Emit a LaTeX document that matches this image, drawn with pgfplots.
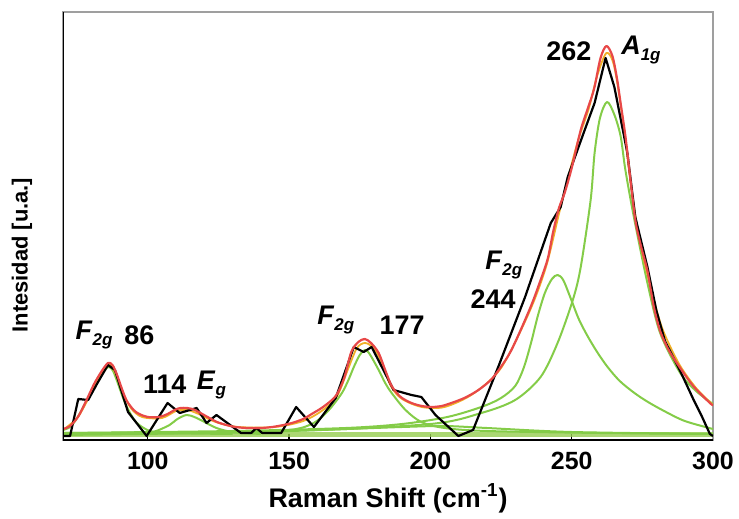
\documentclass[border=0pt]{standalone}
\usepackage{fontspec}
\setmainfont{Liberation Sans}
\usepackage{pgfplots}
\pgfplotsset{compat=1.18}
\usetikzlibrary{calc}

\definecolor{fitred}{RGB}{232,72,72}
\definecolor{compgreen}{RGB}{132,204,72}
\definecolor{basegreen}{RGB}{150,205,80}
\definecolor{sumorange}{RGB}{240,176,40}

\newcommand{\mode}[2]{\textit{#1}\raisebox{-0.45ex}{\fontsize{8.5}{9}\selectfont\textit{#2}}}

\begin{document}
\begin{tikzpicture}
\begin{axis}[
  scale only axis,
  width=325bp, height=214bp,
  xmin=70, xmax=300, ymin=-4, ymax=424,
  xtick={100,150,200,250,300},
  ytick=\empty,
  xtick pos=bottom,
  tick align=inside,
  major tick length=3bp,
  tick style={black, line width=0.7bp},
  axis line style={gray!75, line width=0.7bp},
  /pgf/number format/assume math mode=true,
  xticklabel style={font=\fontsize{12.5}{14}\selectfont\bfseries, yshift=-2.5bp},
  xlabel={Raman Shift (cm\textsuperscript{-1})},
  xlabel style={font=\fontsize{13.5}{15}\selectfont\bfseries, at={(axis description cs:0.5,-0.136)}, anchor=center},
  ylabel={Intesidad [u.a.]},
  ylabel style={font=\fontsize{11}{13}\selectfont\bfseries, at={(axis description cs:-0.063,0.432)}, anchor=center, rotate=0},
  every axis plot/.append style={line join=round},
]
% baseline and broad background components
\addplot[basegreen, line width=2.5bp, opacity=0.8] coordinates {(70,2) (300,2)};
\addplot[compgreen, line width=1bp, smooth] coordinates {
  (70,1) (120,3) (160,6) (190,9) (205,10) (220,8) (250,4) (300,2)};

% Lorentzian components
\addplot[compgreen, line width=1bp, smooth] coordinates {
  (70,6) (72.5,9) (75,18) (78.5,36) (81,49) (83,59) (85.9,69) (87.5,66) (89,56)
  (91,40) (92.6,29) (95,17) (97,11) (100.7,5) (106,3) (130,2)};
\addplot[compgreen, line width=1bp, smooth] coordinates {
  (90,3) (100,4) (103,5) (107.7,11) (110.5,17) (113.7,21) (116.5,19) (119.4,15)
  (124.3,8) (130,4) (140,2)};
\addplot[compgreen, line width=1bp, smooth] coordinates {
  (70,2) (140,4) (152.5,7) (158,12) (161.6,19) (165,29) (168.7,43) (171,56) (172.9,69)
  (175,81) (176.8,86) (178.5,82) (181.7,66) (184,53) (186.3,43) (191.2,26) (196.8,14)
  (205,8) (220,5) (260,3) (300,2)};
\addplot[compgreen, line width=1bp, smooth] coordinates {
  (70,3) (130,5) (170,8) (190,12) (206,19) (218,29) (225,38) (230,50) (233,68)
  (235.6,93) (238,120) (240.5,143) (243,157) (245,161) (247,156) (249.6,138)
  (252.5,117) (255.6,100) (259,84) (262.7,69) (267,55) (272.2,43) (277,34)
  (282.7,25) (290,15) (300,7)};
\addplot[compgreen, line width=1bp, smooth] coordinates {
  (70,3) (150,5) (200,12) (218,23) (230,36) (239,59) (245,93) (250.4,136)
  (253.2,169) (256.7,236) (258.1,283) (260,318) (262.5,334) (265,322) (267.3,300)
  (269,266) (272,219) (276.8,153) (281.3,103) (288.4,63) (294,45) (300,32)};

% cumulative curve
\addplot[sumorange, line width=0.9bp, smooth] coordinates {
  (70,6) (75,18) (78.5,35) (82,56) (85.9,71) (88,66) (91,45) (94,28) (98,19) (105,18)
  (110,25) (114,26) (118,22) (124,14) (132,9) (145,9) (155,15) (162,26) (167,40)
  (171,68) (174,88) (176.8,93) (179.5,89) (182,78) (186,50) (190,37) (197,29)
  (205,29) (215,42) (225,68) (235,124) (241,170) (246,228) (252,293) (256,327)
  (259,360) (262.3,383) (265,370) (268,318) (271,250) (274,196) (278,148) (282,108)
  (288,72) (294,48) (300,31)};

% measured spectrum
\addplot[black, line width=1.1bp] coordinates {
  (70,0) (72.5,0) (75.4,37) (78.9,36) (82,52) (85.9,71) (88.4,66) (93,24) (99.6,0)
  (107,33) (111.3,23) (117.3,28) (120.8,13) (124.3,21) (133,3) (136.6,3) (138.4,8)
  (140.5,3) (147.2,3) (152.5,29) (158.8,9) (166.5,38) (172.9,89) (176.4,84)
  (179.2,89) (187,46) (193.3,41) (196.8,39) (201.8,21) (209.9,0) (215.1,6) (224,69)
  (233.5,139) (242.6,213) (246.1,229) (248.6,259) (254.6,306) (258.1,333) (262,378)
  (265.1,349) (269.7,283) (272.5,219) (276.8,169) (280,125) (283,95) (288.4,65)
  (293,37) (296,20) (298.9,2) (300,0)};

% total fit
\addplot[fitred, line width=1.1bp, smooth] coordinates {
  (70,7) (72.5,10) (75.5,20) (78.5,37) (81,52) (83.5,64) (85.9,73) (87.5,71) (89,62)
  (91,46) (92.6,35) (95,26) (97,22) (100,19) (104,19) (107,22) (109.5,26) (111.5,28)
  (114,28) (115.8,27) (118,24) (121.8,18) (124.5,14) (127.8,11) (131,9) (135,8)
  (140,8) (144,9) (148,11) (151,13) (155,17) (158,22) (162,29) (166.5,40) (169.5,58)
  (172,84) (174.5,94) (176.8,97) (179,93) (181.7,83) (184,66) (186.3,50) (189.5,39)
  (193.3,33) (197,30) (200.4,29) (204,30) (207.4,33) (212,38) (217,46) (222,58)
  (227.5,80) (231,100) (235.6,130) (238.5,152) (241.5,177) (243.5,205) (245.5,228)
  (247.5,243) (250,268) (253.2,306) (256,330) (258,348) (260.2,378) (262.3,390)
  (264.4,380) (266,358) (267.3,333) (269,300) (270.4,266) (272.5,216) (274.5,190)
  (276.8,165) (279,130) (281.3,105) (284.5,85) (288.4,68) (293,50) (298.9,33) (300,31)};

% darker left and bottom spines
\draw[black, line width=1.1bp] (rel axis cs:0,1) -- (rel axis cs:0,0) -- (rel axis cs:1,0);

% band assignments
\begin{scope}[every node/.style={font=\fontsize{13.5}{15}\selectfont\bfseries, inner sep=0pt}]
  \node at (axis cs:81,101) {\mode{F}{2g}};
  \node at (axis cs:97,101) {86};
  \node at (axis cs:106,52) {114};
  \node at (axis cs:122.5,51) {\mode{E}{g}};
  \node at (axis cs:166.5,116) {\mode{F}{2g}};
  \node at (axis cs:190,111) {177};
  \node at (axis cs:226,171) {\mode{F}{2g}};
  \node at (axis cs:222.2,137) {244};
  \node at (axis cs:249,385) {262};
  \node at (axis cs:274.5,386) {\mode{A}{1g}};
\end{scope}
\end{axis}
\pgfresetboundingbox
\path ($(current axis.south west)+(-31.5bp,-39.5bp)$) rectangle ($(current axis.north east)+(13bp,6bp)$);
\end{tikzpicture}
\end{document}
